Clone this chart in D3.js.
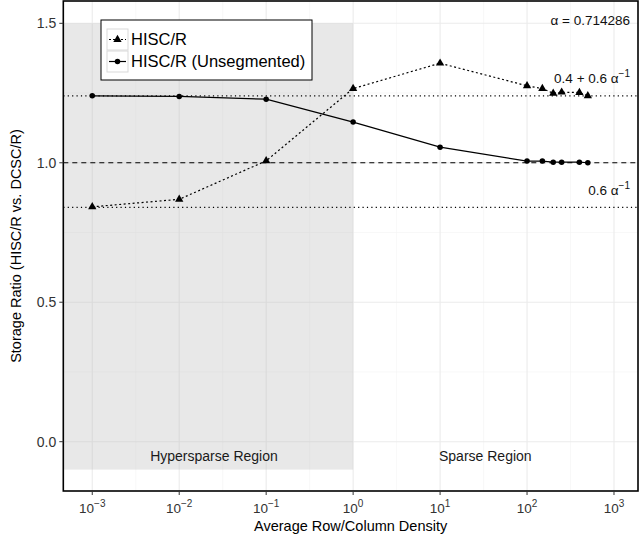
<!DOCTYPE html>
<html>
<head>
<meta charset="utf-8">
<script src="https://cdn.jsdelivr.net/npm/d3@7"></script>
<style>
  body { margin: 0; background: #fff; }
  text { font-family: "Liberation Sans", Arial, sans-serif; }
</style>
</head>
<body>
<div id="chart"></div>
<script>
// data
var density = [0.001, 0.01, 0.1, 1, 10, 100, 150, 200, 250, 400, 500];
var hiscR = [0.842, 0.869, 1.007, 1.266, 1.357, 1.276, 1.266, 1.249, 1.253, 1.252, 1.240];
var hiscRUnseg = [1.240, 1.238, 1.228, 1.146, 1.056, 1.006, 1.006, 1.002, 1.002, 1.002, 1.000];
var seriesNames = ["HISC/R", "HISC/R (Unsegmented)"];
var alpha = 0.714286;
var refUpper = 0.4 + 0.6 / alpha;
var refLower = 0.6 / alpha;
var xTicks = [-3, -2, -1, 0, 1, 2, 3];
var yTicks = [0.0, 0.5, 1.0, 1.5];
var yMinor = [0.25, 0.75, 1.25];

var W = 644, H = 544;
var panel = { left: 63.3, right: 638, top: 1, bottom: 491 };

var svg = d3.select("#chart").append("svg")
    .attr("width", W)
    .attr("height", H);

var x = d3.scaleLog()
    .domain([Math.pow(10, -3.333), Math.pow(10, 3.276)])
    .range([panel.left, panel.right]);
var y = d3.scaleLinear()
    .domain([-0.18, 1.58])
    .range([491.9, 1]);

var grid = svg.append("g");
// minor grid
xTicks.slice(0, -1).forEach(e => {
    grid.append("line")
        .attr("x1", x(Math.pow(10, e + 0.5))).attr("x2", x(Math.pow(10, e + 0.5)))
        .attr("y1", panel.top).attr("y2", panel.bottom)
        .attr("stroke", "#f4f4f4").attr("stroke-width", 0.6);
});
yMinor.forEach(v => {
    grid.append("line")
        .attr("x1", panel.left).attr("x2", panel.right)
        .attr("y1", y(v)).attr("y2", y(v))
        .attr("stroke", "#f4f4f4").attr("stroke-width", 0.6);
});
// major grid
xTicks.forEach(e => {
    grid.append("line")
        .attr("x1", x(Math.pow(10, e))).attr("x2", x(Math.pow(10, e)))
        .attr("y1", panel.top).attr("y2", panel.bottom)
        .attr("stroke", "#ebebeb").attr("stroke-width", 1.1);
});
yTicks.forEach(v => {
    grid.append("line")
        .attr("x1", panel.left).attr("x2", panel.right)
        .attr("y1", y(v)).attr("y2", y(v))
        .attr("stroke", "#ebebeb").attr("stroke-width", 1.1);
});

// hypersparse shading
svg.append("rect")
    .attr("x", panel.left)
    .attr("y", y(1.5))
    .attr("width", x(1) - panel.left)
    .attr("height", y(-0.1) - y(1.5))
    .attr("fill", "#bdbdbd")
    .attr("fill-opacity", 0.35);

svg.append("text")
    .attr("x", x(Math.pow(10, -1.6)))
    .attr("y", y(-0.05))
    .attr("dy", "0.35em")
    .attr("text-anchor", "middle")
    .attr("font-size", 14)
    .attr("fill", "#1a1a1a")
    .text("Hypersparse Region");
svg.append("text")
    .attr("x", x(Math.pow(10, 1.52)))
    .attr("y", y(-0.05))
    .attr("dy", "0.35em")
    .attr("text-anchor", "middle")
    .attr("font-size", 14)
    .attr("fill", "#1a1a1a")
    .text("Sparse Region");

// reference lines
[[refUpper, "1.2,3.2"], [refLower, "1.2,3.2"], [1.0, "5,4"]].forEach(r => {
    svg.append("line")
        .attr("x1", panel.left).attr("x2", panel.right)
        .attr("y1", y(r[0])).attr("y2", y(r[0]))
        .attr("stroke", "#000").attr("stroke-width", 1.1)
        .attr("stroke-dasharray", r[1]);
});

// series
var pts = density.map((d, i) => ({ d: d, a: hiscR[i], b: hiscRUnseg[i] }));
var line = d3.line().x(p => x(p.d));

svg.append("path")
    .datum(pts)
    .attr("d", line.y(p => y(p.a)))
    .attr("fill", "none")
    .attr("stroke", "#000")
    .attr("stroke-width", 1.2)
    .attr("stroke-dasharray", "2,2.5");
svg.append("path")
    .datum(pts)
    .attr("d", line.y(p => y(p.b)))
    .attr("fill", "none")
    .attr("stroke", "#000")
    .attr("stroke-width", 1.2);

var tri = d3.symbol().type(d3.symbolTriangle).size(30);
var dot = d3.symbol().type(d3.symbolCircle).size(24);
svg.selectAll(".tri").data(pts).enter().append("path")
    .attr("class", "tri")
    .attr("transform", p => "translate(" + x(p.d) + "," + y(p.a) + ")")
    .attr("d", tri);
svg.selectAll(".dot").data(pts).enter().append("path")
    .attr("class", "dot")
    .attr("transform", p => "translate(" + x(p.d) + "," + y(p.b) + ")")
    .attr("d", dot);

// annotations
function alphaNote(yv, parts) {
    var t = svg.append("text")
        .attr("x", 630)
        .attr("y", yv)
        .attr("text-anchor", "end")
        .attr("font-size", 13.5)
        .attr("fill", "#111");
    parts.forEach(p => {
        var s = t.append("tspan").text(p[0]);
        if (p[1]) s.attr("dy", p[1]).attr("font-size", 10);
    });
}
alphaNote(y(1.495), [["\u03b1 = " + alpha]]);
alphaNote(y(1.285), [["0.4 + 0.6 \u03b1"], ["\u22121", "-6"]]);
alphaNote(y(0.885), [["0.6 \u03b1"], ["\u22121", "-6"]]);

// panel border
svg.append("rect")
    .attr("x", panel.left).attr("y", panel.top)
    .attr("width", panel.right - panel.left)
    .attr("height", panel.bottom - panel.top)
    .attr("fill", "none")
    .attr("stroke", "#000")
    .attr("stroke-width", 1.6);

// axes
var xAxis = svg.append("g");
xTicks.forEach(e => {
    var px = x(Math.pow(10, e));
    xAxis.append("line")
        .attr("x1", px).attr("x2", px)
        .attr("y1", panel.bottom).attr("y2", panel.bottom + 4)
        .attr("stroke", "#333");
    var t = xAxis.append("text")
        .attr("x", px)
        .attr("y", panel.bottom + 22)
        .attr("text-anchor", "middle")
        .attr("font-size", 13.5)
        .attr("fill", "#333");
    t.append("tspan").text("10");
    t.append("tspan").text(e < 0 ? "\u2212" + (-e) : e)
        .attr("dy", "-6").attr("font-size", 10);
});
var yAxis = svg.append("g");
yTicks.forEach(v => {
    yAxis.append("line")
        .attr("x1", panel.left - 4).attr("x2", panel.left)
        .attr("y1", y(v)).attr("y2", y(v))
        .attr("stroke", "#333");
    yAxis.append("text")
        .attr("x", panel.left - 7)
        .attr("y", y(v))
        .attr("dy", "0.35em")
        .attr("text-anchor", "end")
        .attr("font-size", 14)
        .attr("fill", "#333")
        .text(d3.format(".1f")(v));
});

svg.append("text")
    .attr("x", (panel.left + panel.right) / 2)
    .attr("y", 531)
    .attr("text-anchor", "middle")
    .attr("font-size", 14.5)
    .attr("fill", "#000")
    .text("Average Row/Column Density");
svg.append("text")
    .attr("transform", "translate(21," + (panel.top + panel.bottom) / 2 + ") rotate(-90)")
    .attr("text-anchor", "middle")
    .attr("font-size", 14.5)
    .attr("fill", "#000")
    .text("Storage Ratio (HISC/R vs. DCSC/R)");

// legend
var lg = svg.append("g").attr("transform", "translate(101,20)");
lg.append("rect")
    .attr("width", 211).attr("height", 60)
    .attr("fill", "#fff").attr("stroke", "#000").attr("stroke-width", 1);
seriesNames.forEach((name, i) => {
    var ky = 9 + i * 22;
    lg.append("rect")
        .attr("x", 6).attr("y", ky)
        .attr("width", 21).attr("height", 21)
        .attr("fill", "#fff").attr("stroke", "#d9d9d9");
    lg.append("line")
        .attr("x1", 8).attr("x2", 25)
        .attr("y1", ky + 10.5).attr("y2", ky + 10.5)
        .attr("stroke", "#000").attr("stroke-width", 1.2)
        .attr("stroke-dasharray", i === 0 ? "2,2" : null);
    lg.append("path")
        .attr("transform", "translate(16.5," + (ky + 10.5) + ")")
        .attr("d", i === 0 ? tri : dot);
    lg.append("text")
        .attr("x", 30).attr("y", ky + 10.5)
        .attr("dy", "0.35em")
        .attr("font-size", 16.5)
        .attr("fill", "#000")
        .text(name);
});
</script>
</body>
</html>
